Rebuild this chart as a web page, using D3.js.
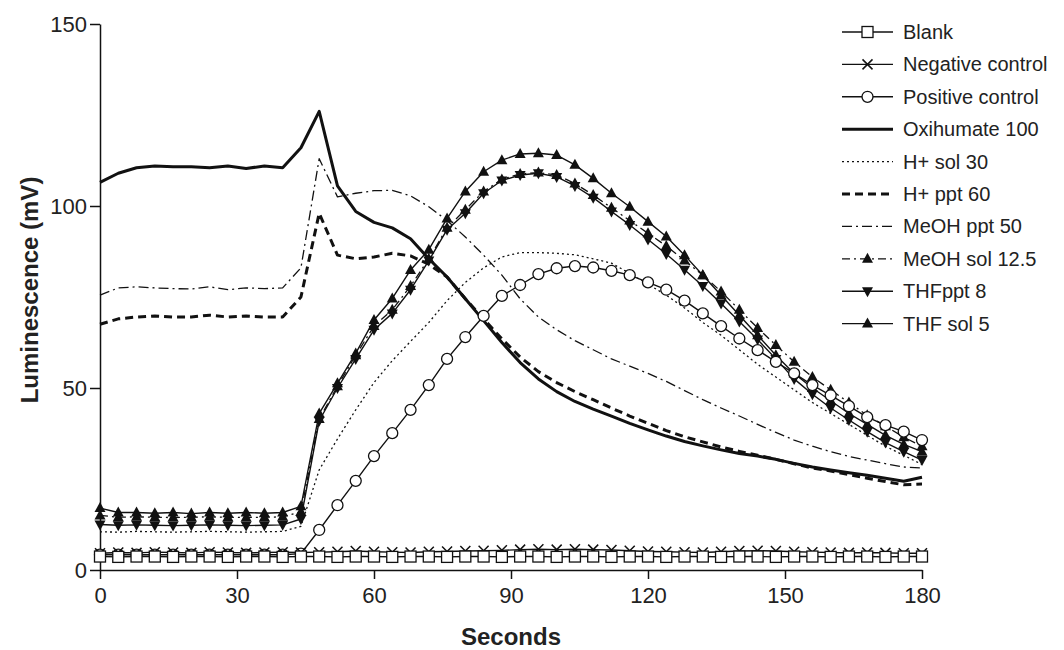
<!DOCTYPE html>
<html>
<head>
<meta charset="utf-8">
<script src="https://cdn.jsdelivr.net/npm/d3@7"></script>
<style>
body { margin: 0; background: #fff; }
svg { font-family: 'Liberation Sans', Arial, sans-serif; }
</style>
</head>
<body>
<div id="chart"></div>
<script>
// sampling times (s)
var seconds = [0, 4, 8, 12, 16, 20, 24, 28, 32, 36, 40, 44, 48, 52, 56, 60, 64, 68, 72, 76, 80, 84, 88, 92,
	96, 100, 104, 108, 112, 116, 120, 124, 128, 132, 136, 140, 144, 148, 152, 156, 160, 164, 168, 172, 176, 180]

var blank = [3.7, 3.6, 3.7, 3.7, 3.6, 3.7, 3.7, 3.6, 3.7, 3.7, 3.6, 3.7, 3.7, 3.6, 3.7, 3.7, 3.6, 3.7, 3.7, 3.6, 3.7, 3.7, 3.6,
	3.7, 3.7, 3.6, 3.7, 3.7, 3.6, 3.7, 3.7, 3.6, 3.7, 3.7, 3.6, 3.7, 3.7, 3.6, 3.7, 3.7, 3.6, 3.7, 3.7, 3.6, 3.7, 3.7]
var negativeControl = [4.6, 4.8, 4.7, 4.9, 4.8, 4.7, 4.9, 4.8, 4.7, 4.8, 4.9, 4.8, 4.9, 5.0, 5.2, 5.0, 4.9, 4.8, 5.0, 5.1, 5.2, 5.3, 5.4,
	5.6, 5.7, 5.6, 5.7, 5.6, 5.5, 5.3, 5.1, 5.0, 4.9, 4.8, 5.0, 5.2, 5.3, 5.2, 5.0, 4.9, 4.8, 4.7, 4.8, 4.7, 4.6, 4.6]
var positiveControl = [4.2, 4.2, 4.2, 4.2, 4.2, 4.2, 4.2, 4.2, 4.2, 4.2, 4.2, 4.5, 11, 17.8, 24.5, 31.3, 37.6, 44, 50.8, 58, 64, 69.8, 75.3,
	78.3, 81.3, 82.9, 83.5, 83.1, 82.2, 81, 79, 77, 74, 70.5, 67, 63.6, 60.4, 57.2, 54, 50.8, 48, 45, 42, 39.8, 38, 35.7]
var oxihumate = [106.5, 109, 110.5, 111, 110.8, 110.8, 110.5, 111, 110.3, 111, 110.5, 116, 126, 105.5, 98.5, 95.5, 94, 91, 85.5, 80.5, 74.5, 68.5, 62.5,
	57, 52.5, 49, 46.3, 44.2, 42.3, 40.3, 38.5, 36.8, 35.3, 34.1, 33, 32, 31.3, 30.4, 29.3, 28.3, 27.5, 26.7, 26, 25.2, 24.4, 25.5]
var hSol = [10.5, 10.4, 10.6, 10.5, 10.4, 10.5, 10.6, 10.5, 10.4, 10.5, 10.6, 12, 27.5, 36, 44, 51.5, 57.5, 62.8, 68, 74, 79, 83, 86,
	87.2, 87.2, 87, 86.6, 85.5, 84.3, 81.5, 78.5, 75.5, 72, 68, 64.5, 60.5, 56.5, 53, 49.5, 46, 43, 40, 37, 34, 31.5, 29]
var hPpt = [67.5, 69, 69.5, 69.8, 69.5, 69.5, 70, 69.5, 69.8, 69.5, 69.5, 75, 98, 86.5, 85.5, 86, 87, 86.3, 84, 80.5, 74.5, 69, 63.5,
	58.5, 54.5, 51.5, 49, 46.8, 44.5, 42.3, 40.3, 38.3, 36.6, 35.2, 33.8, 32.6, 31.5, 30.4, 29.2, 28, 27.2, 26.2, 25.2, 24.3, 23.4, 23.6]
var meohPpt = [75.5, 77.5, 77.8, 77.5, 77.3, 77.2, 77.8, 77, 77.5, 77.3, 77.5, 83, 113, 102.5, 103.5, 104.2, 104.3, 102.8, 99.8, 96, 91.5, 86.5, 81,
	74.5, 69.5, 66, 63, 60.5, 58, 56, 54, 51.8, 49.3, 46.8, 44.5, 42.3, 40, 37.8, 35.7, 34, 32.5, 31.2, 30.2, 29.2, 28.3, 28]
var meohSol = [15, 14.5, 14.6, 14.5, 14.4, 14.5, 14.6, 14.5, 14.4, 14.5, 14.6, 16, 41.5, 50.5, 59, 67, 71.5, 78, 85.5, 94, 99, 104, 107.3,
	108.8, 109.2, 108.5, 106.2, 103, 99.5, 96, 92.5, 89, 85, 81, 76.5, 71.5, 66.5, 61.8, 57.2, 53, 49.5, 46, 42.5, 39.5, 36.5, 34]
var thfPpt = [12.5, 12.3, 12.4, 12.3, 12.2, 12.3, 12.4, 12.3, 12.2, 12.3, 12.4, 14, 41, 50, 58, 66, 70.5, 77, 85, 93.5, 98, 103.5, 107,
	108.5, 109, 108, 105.5, 102.3, 98.5, 94.8, 90.8, 86.8, 82.5, 78, 73.2, 68.3, 63.3, 58, 52.5, 48.3, 44.5, 41.2, 38, 35, 32.5, 30.2]
var thfSol = [17, 15.8, 15.8, 15.6, 15.8, 15.5, 15.8, 15.6, 15.8, 15.6, 15.8, 17.5, 43, 51.3, 59.5, 68.7, 74.6, 82.4, 88, 96.6, 104, 109.4, 112.6,
	114.3, 114.5, 114, 111.3, 107.6, 103.5, 99.8, 95.7, 91.6, 86.5, 81, 75.5, 70, 64.5, 59, 54, 50, 46.5, 43, 40, 37, 34.5, 32.5]

var seriesNames = ['Blank', 'Negative control', 'Positive control', 'Oxihumate 100', 'H+ sol 30', 'H+ ppt 60',
	'MeOH ppt 50', 'MeOH sol 12.5', 'THFppt 8', 'THF sol 5']
var yTicks = [0, 50, 100, 150]
var xTicks = [0, 30, 60, 90, 120, 150, 180]

var series = [
	{ name: seriesNames[0], values: blank, marker: 'square', width: 1.4, dash: null },
	{ name: seriesNames[1], values: negativeControl, marker: 'x', width: 1.4, dash: null },
	{ name: seriesNames[2], values: positiveControl, marker: 'circle', width: 1.4, dash: null },
	{ name: seriesNames[3], values: oxihumate, marker: null, width: 3, dash: null },
	{ name: seriesNames[4], values: hSol, marker: null, width: 1.3, dash: '2,3' },
	{ name: seriesNames[5], values: hPpt, marker: null, width: 3, dash: '8,5' },
	{ name: seriesNames[6], values: meohPpt, marker: null, width: 1.3, dash: '10,4,2,4' },
	{ name: seriesNames[7], values: meohSol, marker: 'triUp', width: 1.3, dash: '8,4,2,4' },
	{ name: seriesNames[8], values: thfPpt, marker: 'triDown', width: 1.4, dash: null },
	{ name: seriesNames[9], values: thfSol, marker: 'triUp', width: 1.4, dash: null },
]

var width = 1064
var height = 650

var svg = d3.select('#chart').append('svg')
	.attr('width', width)
	.attr('height', height)

var x = d3.scaleLinear().domain([0, 180]).range([100, 922])
var y = d3.scaleLinear().domain([0, 150]).range([570, 24])

// axes
var yAxis = svg.append('g')
	.attr('transform', 'translate(100,0)')
	.call(d3.axisLeft(y).tickValues(yTicks).tickSize(10).tickSizeOuter(0).tickPadding(3))
var xAxis = svg.append('g')
	.attr('transform', 'translate(0,570)')
	.call(d3.axisBottom(x).tickValues(xTicks).tickSize(9).tickSizeOuter(0).tickPadding(8))

svg.selectAll('.domain, .tick line').attr('stroke', '#111').attr('stroke-width', 1.5)
svg.selectAll('.tick text').attr('font-size', 22).attr('fill', '#222')
	.attr('font-family', "'Liberation Sans', Arial, sans-serif")

svg.append('text')
	.attr('transform', 'translate(38,290) rotate(-90)')
	.attr('text-anchor', 'middle')
	.attr('font-size', 24)
	.attr('font-weight', 'bold')
	.attr('fill', '#222')
	.text('Luminescence (mV)')

svg.append('text')
	.attr('x', 511)
	.attr('y', 645)
	.attr('text-anchor', 'middle')
	.attr('font-size', 24)
	.attr('font-weight', 'bold')
	.attr('fill', '#222')
	.text('Seconds')

// marker shapes
function drawMarker(g, type, cx, cy) {
	if (type == 'square') {
		g.append('rect').attr('x', cx - 5.5).attr('y', cy - 5.5).attr('width', 11).attr('height', 11)
			.attr('fill', '#fff').attr('stroke', '#111').attr('stroke-width', 1.3)
	} else if (type == 'circle') {
		g.append('circle').attr('cx', cx).attr('cy', cy).attr('r', 5.5)
			.attr('fill', '#fff').attr('stroke', '#111').attr('stroke-width', 1.3)
	} else if (type == 'x') {
		g.append('path').attr('d', `M${cx - 5},${cy - 5}L${cx + 5},${cy + 5}M${cx - 5},${cy + 5}L${cx + 5},${cy - 5}`)
			.attr('stroke', '#111').attr('stroke-width', 1.5)
	} else if (type == 'triUp') {
		g.append('path').attr('d', `M${cx},${cy - 6}L${cx + 5.5},${cy + 4}L${cx - 5.5},${cy + 4}Z`)
			.attr('fill', '#111')
	} else if (type == 'triDown') {
		g.append('path').attr('d', `M${cx},${cy + 6}L${cx + 5.5},${cy - 4}L${cx - 5.5},${cy - 4}Z`)
			.attr('fill', '#111')
	}
}

var line = d3.line()
	.x((d, i) => x(seconds[i]))
	.y(d => y(d))

// draw back to front so Blank ends on top
series.slice().reverse().forEach(s => {
	var g = svg.append('g')
	g.append('path')
		.attr('d', line(s.values))
		.attr('fill', 'none')
		.attr('stroke', '#111')
		.attr('stroke-width', s.width)
		.attr('stroke-dasharray', s.dash)
		.attr('stroke-linejoin', 'round')
	if (s.marker) {
		s.values.forEach((v, i) => drawMarker(g, s.marker, x(seconds[i]), y(v)))
	}
})

// legend
var legend = svg.append('g').attr('class', 'legend')
series.forEach((s, i) => {
	var ly = 32 + i * 32.4
	legend.append('line')
		.attr('x1', 842).attr('x2', 893)
		.attr('y1', ly).attr('y2', ly)
		.attr('stroke', '#111')
		.attr('stroke-width', s.width)
		.attr('stroke-dasharray', s.dash)
	if (s.marker) drawMarker(legend, s.marker, 867.5, ly)
	legend.append('text')
		.attr('x', 903)
		.attr('y', ly)
		.attr('dy', '0.35em')
		.attr('font-size', 20)
		.attr('fill', '#222')
		.text(s.name)
})
</script>
</body>
</html>
